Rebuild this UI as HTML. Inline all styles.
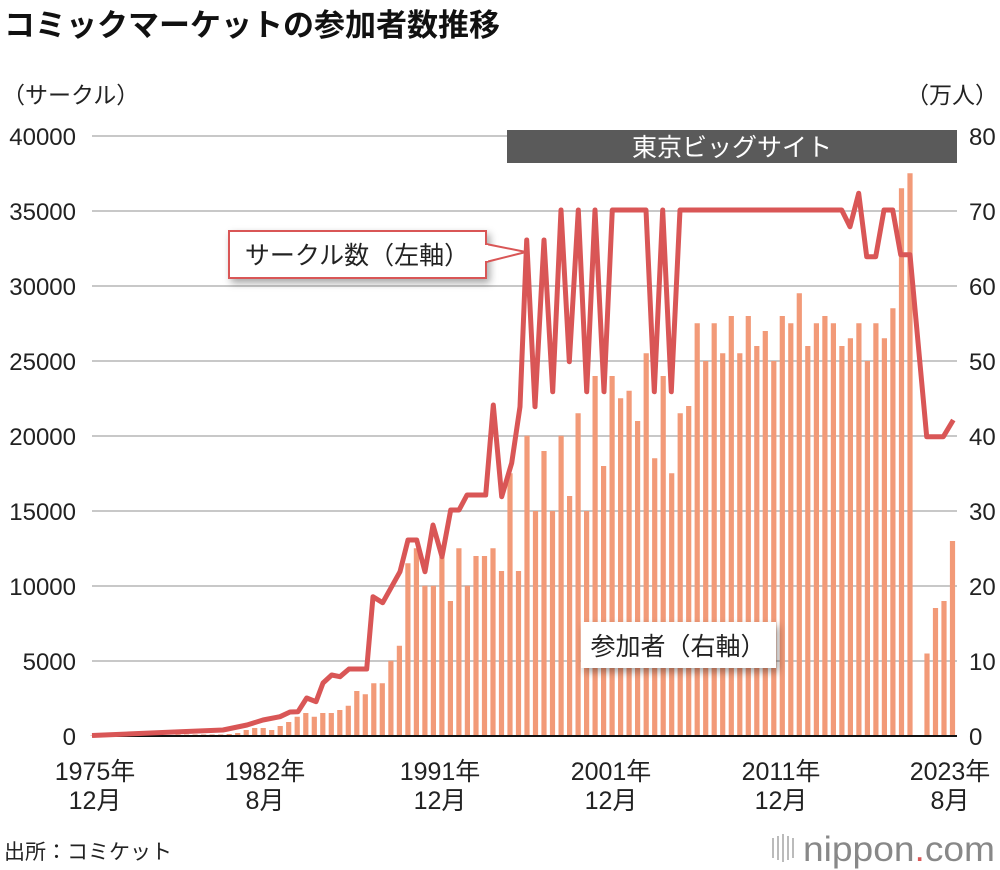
<!DOCTYPE html>
<html><head><meta charset="utf-8"><style>
body{margin:0;background:#fff;}
svg{display:block;font-family:"Liberation Sans","Noto Sans CJK JP",sans-serif;}
</style></head><body>
<svg width="1000" height="870" viewBox="0 0 1000 870" xmlns="http://www.w3.org/2000/svg">
<defs><filter id="sh" x="-20%" y="-20%" width="140%" height="160%"><feDropShadow dx="3" dy="4" stdDeviation="4" flood-color="#000" flood-opacity="0.35"/></filter></defs>
<text x="4" y="36" font-size="31" font-weight="bold" fill="#111">コミックマーケットの参加者数推移</text>
<text x="2" y="103" font-size="23" fill="#222">（サークル）</text>
<text x="998" y="103" font-size="23" fill="#222" text-anchor="end">（万人）</text>
<g stroke="#c8c8c8" stroke-width="2">
<line x1="92" x2="957" y1="136" y2="136"/><line x1="92" x2="957" y1="211" y2="211"/><line x1="92" x2="957" y1="286" y2="286"/><line x1="92" x2="957" y1="361" y2="361"/><line x1="92" x2="957" y1="436" y2="436"/><line x1="92" x2="957" y1="511" y2="511"/><line x1="92" x2="957" y1="586" y2="586"/><line x1="92" x2="957" y1="661" y2="661"/>
</g>
<g font-size="24" fill="#222" text-anchor="end">
<text x="76" y="145">40000</text><text x="76" y="220">35000</text><text x="76" y="295">30000</text><text x="76" y="370">25000</text><text x="76" y="445">20000</text><text x="76" y="520">15000</text><text x="76" y="595">10000</text><text x="76" y="670">5000</text><text x="76" y="745">0</text>
</g>
<g font-size="24" fill="#222">
<text x="969" y="145">80</text><text x="969" y="220">70</text><text x="969" y="295">60</text><text x="969" y="370">50</text><text x="969" y="445">40</text><text x="969" y="520">30</text><text x="969" y="595">20</text><text x="969" y="670">10</text><text x="969" y="745">0</text>
</g>
<rect x="507" y="130" width="450" height="33" fill="#5a5a5a"/>
<text x="732" y="156" font-size="25" fill="#fff" text-anchor="middle">東京ビッグサイト</text>
<path fill="none" stroke="#f29a78" stroke-width="5.2" d="M93,736V735.5 M101.5,736V735.5 M110,736V735.5 M118.5,736V735.5 M127,736V735.5 M135.6,736V735.5 M144.1,736V735.5 M152.6,736V735.5 M161.1,736V735.5 M169.6,736V735.5 M178.1,736V734.5 M186.6,736V734.5 M195.1,736V734.5 M203.6,736V734.5 M212.1,736V734.5 M220.7,736V734.5 M229.2,736V734 M237.7,736V733 M246.2,736V730 M254.7,736V728 M263.2,736V728 M271.7,736V730 M280.2,736V726 M288.7,736V722 M297.2,736V716.7 M305.8,736V713 M314.3,736V716.7 M322.8,736V713 M331.3,736V713 M339.8,736V710 M348.3,736V705.7 M356.8,736V691 M365.3,736V694.3 M373.8,736V683.3 M382.3,736V683.3 M390.9,736V660.7 M399.4,736V645.7 M407.9,736V563.3 M416.4,736V548.3 M424.9,736V585.7 M433.4,736V585.7 M441.9,736V556.7 M450.4,736V601 M458.9,736V548.3 M467.4,736V585.7 M476,736V556 M484.5,736V556 M493,736V548.3 M501.5,736V571 M510,736V473.3 M518.5,736V571 M527,736V435.7 M535.5,736V511 M544,736V451 M552.5,736V511 M561.1,736V435.7 M569.6,736V496 M578.1,736V413.3 M586.6,736V511 M595.1,736V376 M603.6,736V466 M612.1,736V376 M620.6,736V398.3 M629.1,736V390.7 M637.6,736V421 M646.2,736V353.3 M654.7,736V458.3 M663.2,736V376 M671.7,736V473.3 M680.2,736V413.3 M688.7,736V406 M697.2,736V323.3 M705.7,736V361 M714.2,736V323.3 M722.7,736V353.3 M731.3,736V316 M739.8,736V353.3 M748.3,736V316 M756.8,736V346 M765.3,736V331 M773.8,736V361 M782.3,736V316 M790.8,736V323.3 M799.3,736V293.3 M807.8,736V346 M816.4,736V323.3 M824.9,736V316 M833.4,736V323.3 M841.9,736V346 M850.4,736V338.3 M858.9,736V323.3 M867.4,736V361 M875.9,736V323.3 M884.4,736V338.3 M892.9,736V308.3 M901.5,736V188.3 M910,736V173.3 M927,736V653.5 M935.5,736V608 M944,736V601 M952.5,736V541"/>
<line x1="92" x2="957" y1="736" y2="736" stroke="#111" stroke-width="2"/>
<polyline fill="none" stroke="#d95656" stroke-width="5" stroke-linejoin="round" points="92,735.5 180,731.7 223,730 247,725 263,720 280,716.7 290,712 298,711.7 306.7,698 316,701.7 323,683 331.7,675 340,676.7 349,669 366.7,669 373,596.7 382.7,602.7 400,571.7 408,540 416.7,540 425,571.7 433,525 442,556.7 450.7,510 459,510 467,495 485.7,495 493.3,405 501.7,496.7 511.7,463 520,406.7 526.7,240 535,406.7 544,240 552.7,391.7 561,210 569.3,361.7 578.3,210 586.7,391.7 595,210 604,391.7 612.3,210 646,210 654.3,391.7 662.7,210 671.3,391.7 680,210 841.7,210 850,226.7 858.7,193.3 866.7,256.7 875.7,256.7 884,210 892.7,210 900.7,254.7 910,254.7 926.7,436.7 943.3,436.7 953.3,420"/>
<g filter="url(#sh)"><rect x="229" y="231" width="257" height="47" fill="#fff" stroke="#d95656" stroke-width="2"/></g>
<path d="M486,244 L526,252 L486,262" fill="#fff" stroke="#d95656" stroke-width="2"/>
<rect x="484" y="245" width="4" height="16" fill="#fff"/>
<text x="357" y="264" font-size="25" fill="#222" text-anchor="middle">サークル数（左軸）</text>
<g filter="url(#sh)"><rect x="581" y="622" width="195" height="46" fill="#fff"/></g>
<text x="678" y="655" font-size="25" fill="#222" text-anchor="middle">参加者（右軸）</text>
<g font-size="25" fill="#222" text-anchor="middle">
<text x="95" y="780">1975年</text><text x="95" y="809">12月</text>
<text x="265" y="780">1982年</text><text x="265" y="809">8月</text>
<text x="440" y="780">1991年</text><text x="440" y="809">12月</text>
<text x="611" y="780">2001年</text><text x="611" y="809">12月</text>
<text x="781" y="780">2011年</text><text x="781" y="809">12月</text>
<text x="950" y="780">2023年</text><text x="950" y="809">8月</text>
</g>
<text x="4" y="859" font-size="21" fill="#222">出所：コミケット</text>
<g fill="#bbb"><rect x="772" y="838" width="2" height="20"/><rect x="777" y="836" width="2" height="24"/><rect x="782" y="834" width="2" height="28"/><rect x="787" y="836" width="2" height="24"/><rect x="792" y="838" width="2" height="20"/></g>
<text x="803" y="861" font-size="35" fill="#888" textLength="192" lengthAdjust="spacingAndGlyphs">nippon<tspan fill="#d95656">.</tspan>com</text>
</svg>
</body></html>
